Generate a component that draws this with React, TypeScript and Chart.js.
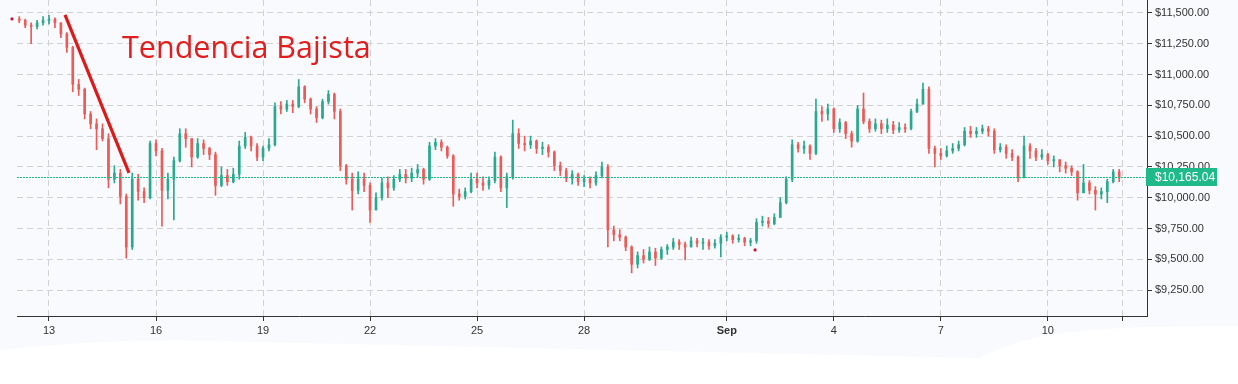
import React, { useEffect, useRef } from 'react';
import { Chart, registerables } from 'chart.js';

Chart.register(...registerables);

// Time axis: day number (Aug d = d, Sep d = 31 + d); 4-hour candles from Aug 12 04:00
const candleStart = 12 + 4 / 24;
const candleStep = 4 / 24;
const firstOpen = 11450;

const closes = [
  11440, 11400, 11390, 11420, 11440, 11450, 11420, 11330, 11220, 10920,
  10880, 10680, 10600, 10560, 10480, 10150, 10200, 10010, 9600, 10150,
  10050, 10000, 10440, 10380, 10060, 10150, 10300, 10520, 10480, 10330,
  10440, 10400, 10350, 10100, 10180, 10130, 10190, 10420, 10490, 10420,
  10330, 10400, 10430, 10740, 10720, 10760, 10740, 10900, 10800, 10720,
  10650, 10780, 10840, 10700, 10260, 10150, 10060, 10150, 10100, 9900,
  10000, 10120, 10080, 10150, 10190, 10160, 10200, 10230, 10150, 10420,
  10450, 10410, 10340, 10030, 10010, 10050, 10150, 10120, 10100, 10140,
  10330, 10080, 10170, 10520, 10440, 10430, 10460, 10400, 10410, 10370,
  10260, 10220, 10160, 10190, 10130, 10150, 10120, 10180, 10250, 9740,
  9700, 9680, 9600, 9460, 9530, 9500, 9560, 9510, 9580, 9600,
  9640, 9620, 9600, 9650, 9630, 9640, 9610, 9630, 9680, 9690,
  9660, 9670, 9640, 9650, 9800, 9810, 9790, 9840, 9960, 10150,
  10430, 10400, 10420, 10360, 10700, 10680, 10720, 10560, 10610, 10520,
  10460, 10720, 10620, 10560, 10600, 10560, 10590, 10550, 10570, 10560,
  10700, 10760, 10880, 10400, 10360, 10340, 10380, 10400, 10430, 10540,
  10520, 10540, 10560, 10540, 10390, 10410, 10360, 10330, 10170, 10420,
  10380, 10330, 10350, 10300, 10310, 10260, 10240, 10210, 10040, 10120,
  10060, 10030, 10050, 10130, 10210, 10165.04,
];

const highs = [
  11470, 11450, 11420, 11440, 11470, 11480, 11460, 11420, 11340, 11230,
  10960, 10890, 10700, 10640, 10600, 10520, 10260, 10230, 10030, 10200,
  10190, 10080, 10460, 10470, 10400, 10200, 10330, 10560, 10560, 10480,
  10480, 10470, 10410, 10370, 10250, 10230, 10240, 10460, 10530, 10500,
  10440, 10420, 10480, 10770, 10780, 10790, 10790, 10960, 10910, 10810,
  10740, 10800, 10870, 10850, 10720, 10270, 10200, 10210, 10200, 10120,
  10040, 10160, 10170, 10180, 10230, 10230, 10240, 10270, 10240, 10450,
  10480, 10470, 10420, 10350, 10070, 10080, 10200, 10200, 10170, 10170,
  10370, 10340, 10200, 10630, 10560, 10500, 10500, 10470, 10450, 10430,
  10380, 10290, 10240, 10220, 10200, 10180, 10170, 10210, 10290, 10270,
  9770, 9740, 9690, 9610, 9560, 9580, 9600, 9590, 9600, 9620,
  9670, 9660, 9640, 9680, 9670, 9670, 9660, 9660, 9700, 9720,
  9700, 9700, 9680, 9670, 9830, 9850, 9840, 9870, 10000, 10170,
  10470, 10450, 10460, 10430, 10800, 10740, 10760, 10730, 10640, 10620,
  10540, 10750, 10850, 10640, 10640, 10630, 10640, 10620, 10610, 10600,
  10720, 10800, 10930, 10900, 10420, 10400, 10420, 10440, 10460, 10570,
  10580, 10570, 10590, 10580, 10560, 10440, 10430, 10390, 10340, 10500,
  10440, 10400, 10390, 10360, 10340, 10300, 10290, 10260, 10220, 10270,
  10140, 10090, 10080, 10150, 10230, 10230,
];

const lows = [
  11420, 11380, 11250, 11370, 11400, 11410, 11380, 11300, 11180, 10860,
  10830, 10640, 10560, 10390, 10460, 10080, 10120, 9950, 9510, 9580,
  9980, 9960, 9990, 10340, 9770, 9990, 9820, 10290, 10410, 10250,
  10320, 10350, 10310, 10020, 10090, 10100, 10120, 10150, 10400, 10380,
  10300, 10300, 10380, 10420, 10680, 10700, 10690, 10730, 10770, 10680,
  10610, 10640, 10760, 10640, 10220, 10110, 9900, 10030, 10050, 9800,
  9920, 9980, 10000, 10060, 10130, 10120, 10130, 10170, 10110, 10140,
  10390, 10380, 10320, 9930, 9980, 9990, 10040, 10080, 10060, 10070,
  10120, 10050, 9920, 10150, 10400, 10380, 10400, 10360, 10350, 10330,
  10220, 10180, 10130, 10110, 10100, 10090, 10080, 10100, 10160, 9600,
  9650, 9650, 9570, 9390, 9430, 9470, 9490, 9450, 9500, 9540,
  9580, 9580, 9495, 9600, 9600, 9580, 9580, 9590, 9520, 9650,
  9630, 9640, 9610, 9610, 9630, 9770, 9760, 9780, 9840, 9950,
  10130, 10370, 10360, 10310, 10350, 10620, 10630, 10530, 10530, 10480,
  10410, 10450, 10600, 10530, 10540, 10520, 10530, 10520, 10530, 10530,
  10550, 10690, 10760, 10360, 10250, 10310, 10330, 10360, 10380, 10420,
  10490, 10490, 10520, 10500, 10360, 10370, 10320, 10300, 10130, 10160,
  10320, 10300, 10310, 10270, 10250, 10210, 10200, 10180, 9980, 10040,
  10030, 9900, 9990, 9960, 10120, 10130,
];

const X_MIN = 12.103;
const X_MAX = 43.78;
const Y_MIN = 9040;
const Y_MAX = 11605;
const yStep = 250;

const xTickValues = [13, 16, 19, 22, 25, 28, 32, 35, 38, 41, 43.1];
const xTickLabels = ['13', '16', '19', '22', '25', '28', 'Sep', '4', '7', '10', ''];
const boldTickValue = 32;

const trendLine = [
  { x: 13.449, y: 11484 },
  { x: 15.243, y: 10201 },
];
const markerDots = [
  { x: 11.963, y: 11451 },
  { x: 32.793, y: 9576 },
];
const annotationText = 'Tendencia Bajista';
const annotationAt = { x: 15.047, y: 11135 };

const UP = '#2aa98f';
const DOWN = '#ec5b57';
const PRICE_GREEN = '#20b98a';
const AXIS_FONT = '"Liberation Sans", Arial, sans-serif';

const fmtPrice = (v: number) =>
  '$' + Number(v).toLocaleString('en-US', { minimumFractionDigits: 2, maximumFractionDigits: 2 });

export default function App() {
  const ref = useRef<HTMLCanvasElement | null>(null);

  useEffect(() => {
    const canvas = ref.current;
    if (!canvas) return;

    const opens = closes.map((_, i) => (i === 0 ? firstOpen : closes[i - 1]));
    const times = closes.map((_, i) => candleStart + i * candleStep);
    const lastPrice = closes[closes.length - 1];
    const isUp = (i: number) => closes[i] >= opens[i];

    const bgPlugin = {
      id: 'bgPlugin',
      beforeDraw(chart: any) {
        const { ctx, width, height } = chart;
        ctx.save();
        ctx.fillStyle = '#f9fafd';
        ctx.fillRect(0, 0, width, height);
        ctx.fillStyle = '#ffffff';
        ctx.beginPath();
        ctx.moveTo(0, height);
        ctx.lineTo(0, 350);
        ctx.quadraticCurveTo(120, 336, 260, 342);
        ctx.lineTo(980, 358);
        ctx.bezierCurveTo(1030, 332, 1080, 326, width, 326);
        ctx.lineTo(width, height);
        ctx.closePath();
        ctx.fill();
        ctx.restore();
      },
    };

    const overlayPlugin = {
      id: 'overlayPlugin',
      afterDatasetsDraw(chart: any) {
        const { ctx, chartArea } = chart;
        const xs = chart.scales.x;
        const ys = chart.scales.y;
        ctx.save();
        // last-price dotted line
        const py = Math.round(ys.getPixelForValue(lastPrice)) + 0.5;
        ctx.strokeStyle = PRICE_GREEN;
        ctx.lineWidth = 1;
        ctx.setLineDash([2, 1]);
        ctx.beginPath();
        ctx.moveTo(chartArea.left, py);
        ctx.lineTo(chartArea.right, py);
        ctx.stroke();
        ctx.setLineDash([]);
        // marker dots
        ctx.fillStyle = '#c0182f';
        for (const d of markerDots) {
          ctx.beginPath();
          ctx.arc(xs.getPixelForValue(d.x), ys.getPixelForValue(d.y), 1.6, 0, Math.PI * 2);
          ctx.fill();
        }
        // annotation
        ctx.fillStyle = '#e21d1d';
        ctx.font = '30.5px "Open Sans", "Noto Sans", sans-serif';
        ctx.textBaseline = 'alphabetic';
        ctx.textAlign = 'left';
        ctx.fillText(annotationText, xs.getPixelForValue(annotationAt.x), ys.getPixelForValue(annotationAt.y));
        ctx.restore();
      },
      afterDraw(chart: any) {
        const { ctx, chartArea } = chart;
        const ys = chart.scales.y;
        const py = Math.round(ys.getPixelForValue(lastPrice));
        ctx.save();
        ctx.fillStyle = PRICE_GREEN;
        ctx.fillRect(chartArea.right - 1, py - 9, 71, 18);
        ctx.fillStyle = '#ffffff';
        ctx.font = '12px ' + AXIS_FONT;
        ctx.textBaseline = 'middle';
        ctx.textAlign = 'left';
        ctx.fillText(fmtPrice(lastPrice), chartArea.right + 8, py + 0.5);
        ctx.restore();
      },
    };

    const chart = new Chart(canvas, {
      type: 'bar',
      data: {
        datasets: [
          {
            type: 'line',
            data: trendLine,
            borderColor: '#dc1a1a',
            borderWidth: 3.2,
            pointRadius: 0,
            fill: false,
          } as any,
          {
            type: 'bar',
            data: times.map((t, i) => ({ x: t, y: [opens[i], closes[i]] })),
            backgroundColor: (c: any) => (isUp(c.dataIndex) ? UP : DOWN),
            borderWidth: 0,
            barThickness: 2,
            minBarLength: 1,
            grouped: false,
          } as any,
          {
            type: 'bar',
            data: times.map((t, i) => ({ x: t, y: [lows[i], highs[i]] })),
            backgroundColor: (c: any) => (isUp(c.dataIndex) ? UP : DOWN),
            borderWidth: 0,
            barThickness: 1,
            minBarLength: 1,
            grouped: false,
          } as any,
        ],
      },
      options: {
        responsive: false,
        maintainAspectRatio: false,
        devicePixelRatio: 1,
        animation: false,
        layout: { padding: { left: 17, top: 0, right: 0, bottom: 0 } },
        plugins: { legend: { display: false }, tooltip: { enabled: false } },
        scales: {
          x: {
            type: 'linear',
            position: 'bottom',
            min: X_MIN,
            max: X_MAX,
            offset: false,
            grid: { offset: false, color: '#d2d2d2', tickColor: '#333333', tickLength: 5, lineWidth: 1 },
            border: { display: true, color: '#333333', width: 1, dash: [6, 4] },
            afterBuildTicks: (s: any) => {
              s.ticks = xTickValues.map((v) => ({ value: v }));
            },
            afterFit: (s: any) => {
              s.height = 68;
              s.paddingLeft = 0;
              s.paddingRight = 0;
            },
            ticks: {
              autoSkip: false,
              maxRotation: 0,
              padding: 3,
              color: '#333333',
              font: (c: any) => ({
                family: AXIS_FONT,
                size: 11,
                weight: c.tick && c.tick.value === boldTickValue ? 'bold' : 'normal',
              }),
              callback: (_v: any, i: number) => xTickLabels[i],
            },
          } as any,
          y: {
            type: 'linear',
            position: 'right',
            min: Y_MIN,
            max: Y_MAX,
            beginAtZero: false,
            grid: { color: '#d2d2d2', tickColor: '#333333', tickLength: 5, lineWidth: 1 },
            border: { display: true, color: '#333333', width: 1, dash: [6, 4] },
            afterFit: (s: any) => {
              s.width = 91;
              s.paddingTop = 0;
              s.paddingBottom = 0;
            },
            ticks: {
              stepSize: yStep,
              includeBounds: false,
              padding: 3,
              color: '#333333',
              font: { family: AXIS_FONT, size: 11 },
              callback: (v: any) => fmtPrice(Number(v)),
            },
          } as any,
        },
      } as any,
      plugins: [bgPlugin, overlayPlugin],
    });

    return () => chart.destroy();
  }, []);

  return (
    <div style={{ position: 'fixed', left: 0, top: 0, width: 1238, height: 384, background: '#ffffff' }}>
      <canvas ref={ref} width={1238} height={384} style={{ display: 'block', width: 1238, height: 384 }} />
    </div>
  );
}
